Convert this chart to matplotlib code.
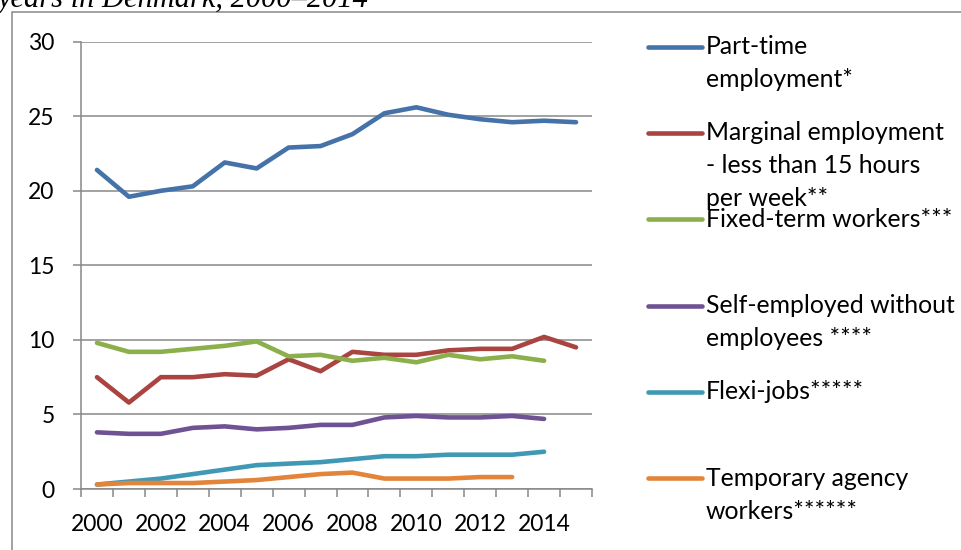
import numpy as np
import matplotlib
matplotlib.use("Agg")
import matplotlib.pyplot as plt
from matplotlib.lines import Line2D
from matplotlib.patches import Rectangle

# ----------------------------
# Data (share of employment, %)
# ----------------------------
years = list(range(2000, 2016))
part_time = [21.4, 19.6, 20.0, 20.3, 21.9, 21.5, 22.9, 23.0, 23.8, 25.2, 25.6, 25.1, 24.8, 24.6, 24.7, 24.6]
marginal = [7.5, 5.8, 7.5, 7.5, 7.7, 7.6, 8.7, 7.9, 9.2, 9.0, 9.0, 9.3, 9.4, 9.4, 10.2, 9.5]
fixed_term = [9.8, 9.2, 9.2, 9.4, 9.6, 9.9, 8.9, 9.0, 8.6, 8.8, 8.5, 9.0, 8.7, 8.9, 8.6]
self_employed = [3.8, 3.7, 3.7, 4.1, 4.2, 4.0, 4.1, 4.3, 4.3, 4.8, 4.9, 4.8, 4.8, 4.9, 4.7]
flexi_jobs = [0.3, 0.5, 0.7, 1.0, 1.3, 1.6, 1.7, 1.8, 2.0, 2.2, 2.2, 2.3, 2.3, 2.3, 2.5]
temp_agency = [0.3, 0.4, 0.4, 0.4, 0.5, 0.6, 0.8, 1.0, 1.1, 0.7, 0.7, 0.7, 0.8, 0.8]

series = [
    (part_time, ["Part-time", "employment*"], "#4572A9"),
    (marginal, ["Marginal employment", "- less than 15 hours", "per week**"], "#AA4441"),
    (fixed_term, ["Fixed-term workers***"], "#8BAF4B"),
    (self_employed, ["Self-employed without", "employees ****"], "#6E5293"),
    (flexi_jobs, ["Flexi-jobs*****"], "#4099B4"),
    (temp_agency, ["Temporary agency", "workers******"], "#E3843B"),
]
title_text = "years in Denmark, 2000\u20132014"

W, H = 961, 550
FONT = "Lato"
plt.rcParams["font.family"] = [FONT, "DejaVu Sans"]

fig = plt.figure(figsize=(W / 100, H / 100), dpi=100)
ax = fig.add_axes([81 / W, 1 - 489 / H, (592 - 81) / W, (489 - 41.7) / H])

grid_c = "#878787"

# ----------------------------
# Lines
# ----------------------------
for vals, _, col in series:
    ax.plot(range(len(vals)), vals, color=col, lw=3.3,
            solid_capstyle="round", solid_joinstyle="round", zorder=3)

ax.set_xlim(-0.5, len(years) - 0.5)
ax.set_ylim(0, 30)

# y axis
ax.set_yticks(np.arange(0, 31, 5))
ax.yaxis.grid(True, color=grid_c, lw=1.1)
ax.set_axisbelow(True)
ax.tick_params(axis="y", length=6, width=1.1, color=grid_c, pad=13,
               labelsize=16.5, labelcolor="black")

# x axis: category axis, ticks at boundaries, labels at every other year
ax.set_xticks(np.arange(-0.5, len(years), 1.0))
ax.set_xticklabels([])
ax.set_xticks(range(0, len(years), 2), minor=True)
ax.set_xticklabels([str(y) for y in years[::2]], minor=True)
ax.tick_params(axis="x", which="major", length=6, width=1.1, color=grid_c, direction="out")
ax.tick_params(axis="x", which="minor", length=0, pad=18, labelsize=16.5, labelcolor="black")

for s in ["top", "right"]:
    ax.spines[s].set_visible(False)
for s in ["left", "bottom"]:
    ax.spines[s].set_color(grid_c)
    ax.spines[s].set_linewidth(1.1)

# ----------------------------
# Legend (drawn by hand, Excel-like spacing)
# ----------------------------
legend_y0 = 46.7
legend_step = 86.3
line_step = 33
for i, (_, labels, col) in enumerate(series):
    yc = legend_y0 + i * legend_step
    fig.add_artist(Line2D([648 / W, 702 / W], [1 - yc / H, 1 - yc / H],
                          color=col, lw=3.3, solid_capstyle="round"))
    for j, lab in enumerate(labels):
        fig.text(706 / W, 1 - (yc + j * line_step) / H, lab, fontsize=17.8,
                 va="center", ha="left", color="black")

# ----------------------------
# Frame and cut-off title
# ----------------------------
fig.add_artist(Rectangle((12 / W, -0.1), 1.2, 1 - 12 / H + 0.1,
                         transform=fig.transFigure, fill=False,
                         edgecolor=grid_c, lw=1.1))
fig.text(-2 / W, 1 - 7 / H, title_text, fontsize=22, family="Liberation Serif",
         style="italic", va="baseline", ha="left", color="black")

fig.savefig("out.png", dpi=100)
